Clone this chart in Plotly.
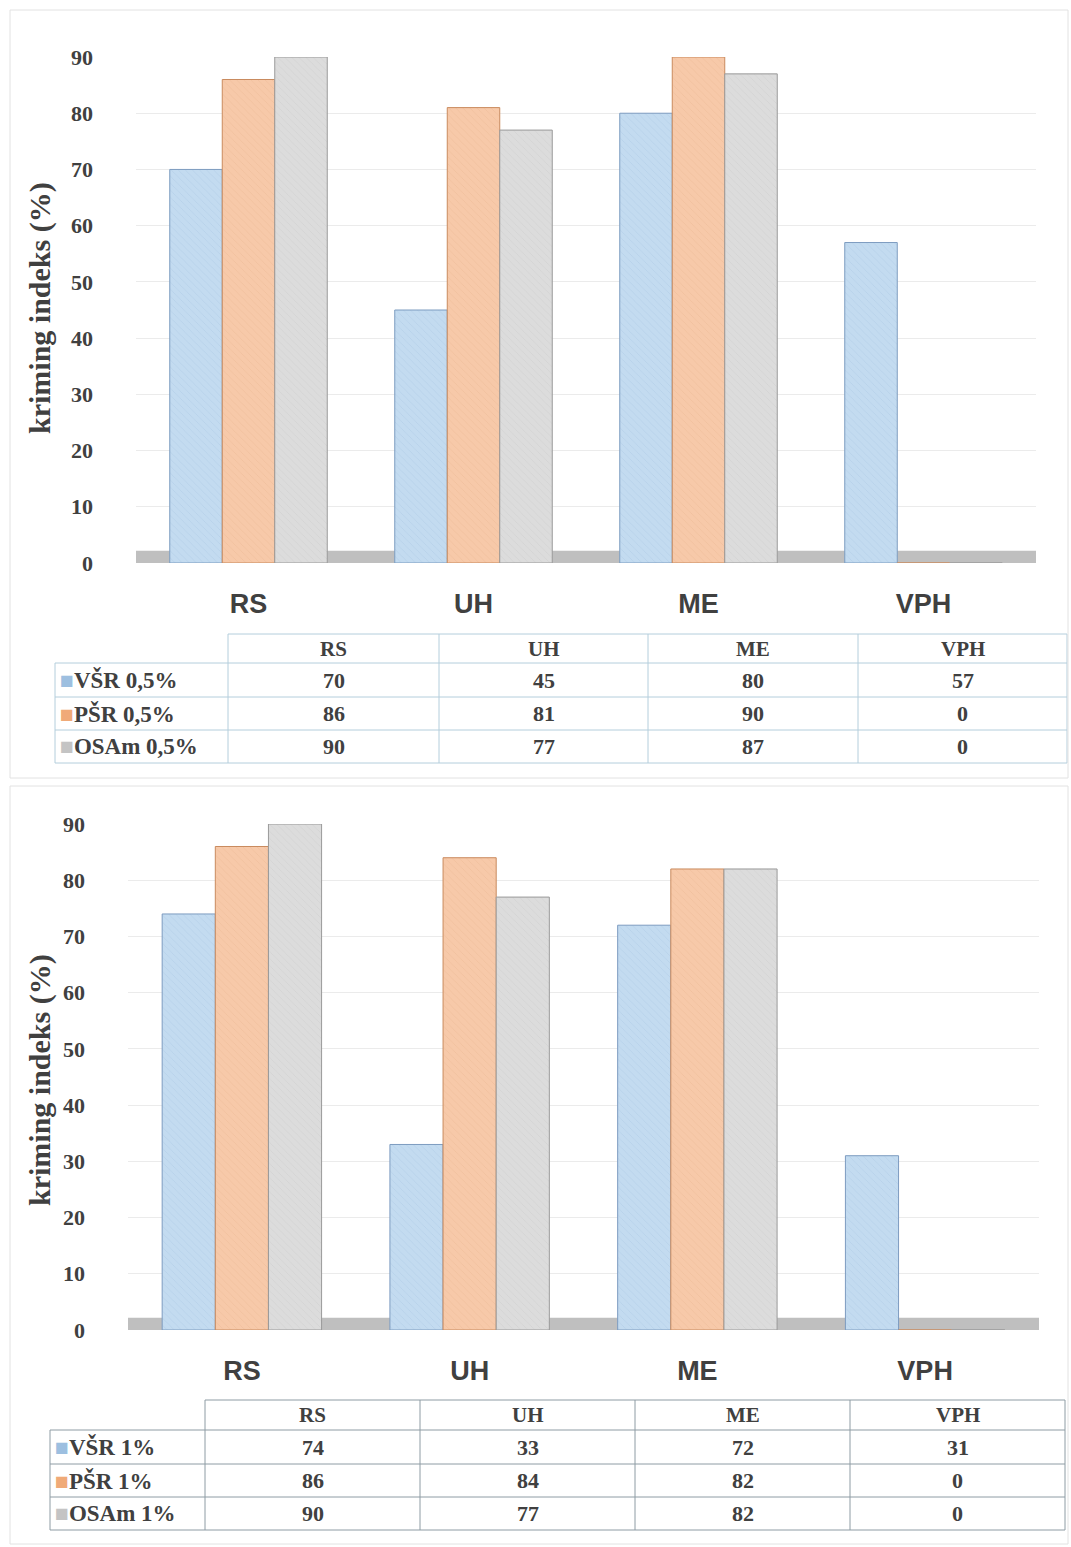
import plotly.graph_objects as go

W, H = 1071, 1547

categories = ["RS", "UH", "ME", "VPH"]

# Panel 1 (0,5%)
series1_names = ["VŠR 0,5%", "PŠR 0,5%", "OSAm 0,5%"]
vsr_05 = [70, 45, 80, 57]
psr_05 = [86, 81, 90, 0]
osam_05 = [90, 77, 87, 0]

# Panel 2 (1%)
series2_names = ["VŠR 1%", "PŠR 1%", "OSAm 1%"]
vsr_1 = [74, 33, 72, 31]
psr_1 = [86, 84, 82, 0]
osam_1 = [90, 77, 82, 0]

y_ticks = [0, 10, 20, 30, 40, 50, 60, 70, 80, 90]

fills = ["#c3dbf0", "#f7c9a9", "#dcdcdc"]
edges = ["#7d9cc0", "#c98a5e", "#9a9a9a"]
hatch = ["#a9c6e3", "#e9b592", "#c8c8c8"]
square = ["#9dbfe0", "#f0aa78", "#c4c4c4"]

SERIF = "Liberation Serif"
SANS = "Liberation Sans"
TXT = "#404040"


def px_x(p):
    return p / W


def px_y(p):
    return 1 - p / H


fig = go.Figure()

panels = [
    dict(vals=[vsr_05, psr_05, osam_05], names=series1_names, xa="x", ya="y",
         xdom=[px_x(136), px_x(1036)], ydom=[px_y(563), px_y(57)],
         col_edges=[55, 228, 439, 648, 858, 1067], row_edges=[634, 663, 697, 730, 763],
         line_color="#b4cedc", title_y=px_y(308), frame=(10, 778)),
    dict(vals=[vsr_1, psr_1, osam_1], names=series2_names, xa="x2", ya="y2",
         xdom=[px_x(128), px_x(1039)], ydom=[px_y(1330), px_y(824)],
         col_edges=[50, 205, 420, 635, 850, 1065], row_edges=[1400, 1430, 1464, 1497, 1530],
         line_color="#8e9ca4", title_y=px_y(1080), frame=(786, 1544)),
]

shapes = []
annotations = []

for pi, p in enumerate(panels):
    for si, (vals, name) in enumerate(zip(p["vals"], p["names"])):
        fig.add_trace(go.Bar(
            x=categories, y=vals, name=name, xaxis=p["xa"], yaxis=p["ya"],
            marker=dict(color=fills[si], line=dict(color=edges[si], width=1),
                        pattern=dict(shape="\\", fgcolor=hatch[si], size=5, solidity=0.15)),
            showlegend=False,
        ))

    # ---- data table (drawn with shapes + annotations) ----
    ce, re_ = p["col_edges"], p["row_edges"]
    lc = p["line_color"]
    for ri, yy in enumerate(re_):
        x_start = ce[1] if ri == 0 else ce[0]
        shapes.append(dict(type="line", xref="paper", yref="paper",
                           x0=px_x(x_start), x1=px_x(ce[-1]), y0=px_y(yy), y1=px_y(yy),
                           line=dict(color=lc, width=1)))
    for ci, xx in enumerate(ce):
        y_start = re_[1] if ci == 0 else re_[0]
        shapes.append(dict(type="line", xref="paper", yref="paper",
                           x0=px_x(xx), x1=px_x(xx), y0=px_y(y_start), y1=px_y(re_[-1]),
                           line=dict(color=lc, width=1)))
    for ci, cat in enumerate(categories):
        xc = (ce[ci + 1] + ce[ci + 2]) / 2
        yc = (re_[0] + re_[1]) / 2
        annotations.append(dict(text=f"<b>{cat}</b>", x=px_x(xc), y=px_y(yc),
                                xref="paper", yref="paper", showarrow=False,
                                xanchor="center", yanchor="middle",
                                font=dict(family=SERIF, size=21, color=TXT)))
    for si in range(3):
        yc = (re_[si + 1] + re_[si + 2]) / 2
        annotations.append(dict(text=f"<span style='color:{square[si]}'>■</span><b>{p['names'][si]}</b>",
                                x=px_x(ce[0] + 3), y=px_y(yc), xref="paper", yref="paper",
                                showarrow=False, xanchor="left", yanchor="middle",
                                font=dict(family=SERIF, size=23, color=TXT)))
        for ci in range(4):
            xc = (ce[ci + 1] + ce[ci + 2]) / 2
            annotations.append(dict(text=f"<b>{p['vals'][si][ci]}</b>", x=px_x(xc), y=px_y(yc),
                                    xref="paper", yref="paper", showarrow=False,
                                    xanchor="center", yanchor="middle",
                                    font=dict(family=SERIF, size=22, color=TXT)))

layout = dict(
    width=W, height=H, margin=dict(l=0, r=0, t=0, b=0, pad=0, autoexpand=False),
    paper_bgcolor="white", plot_bgcolor="white",
    barmode="group", bargap=0.3, bargroupgap=0,
    font=dict(family=SERIF, color=TXT),
    showlegend=False,
)

for pi, p in enumerate(panels):
    xk = "xaxis" if pi == 0 else "xaxis2"
    yk = "yaxis" if pi == 0 else "yaxis2"
    layout[xk] = dict(domain=p["xdom"], anchor=p["ya"], showline=False, showgrid=False,
                      automargin=False, ticks="", ticklabelstandoff=22,
                      tickfont=dict(family=SANS, size=27, color=TXT, weight="bold"),
                      categoryorder="array", categoryarray=categories)
    layout[yk] = dict(domain=p["ydom"], anchor=p["xa"], range=[0, 90], tickvals=y_ticks,
                      automargin=False,
                      showgrid=True, gridcolor="#ebebeb", zeroline=False, showline=False,
                      ticks="", ticklabelstandoff=42,
                      tickfont=dict(family=SERIF, size=22, color=TXT, weight="bold"))
    shapes.append(dict(type="rect", xref=f"{p['xa']} domain", yref=p["ya"],
                       x0=0.0, x1=1.0, y0=0, y1=2.2, fillcolor="#bfbfbf",
                       line=dict(width=0), layer="below"))
    annotations.append(dict(text="<b>kriming indeks (%)</b>", x=px_x(40), y=p["title_y"],
                            xref="paper", yref="paper", textangle=-90, showarrow=False,
                            xanchor="center", yanchor="middle",
                            font=dict(family=SERIF, size=30, color=TXT)))
    f0, f1 = p["frame"]
    shapes.append(dict(type="rect", xref="paper", yref="paper", x0=px_x(10), x1=px_x(1068),
                       y0=px_y(f1), y1=px_y(f0), line=dict(color="#e2e2e2", width=1)))

layout["shapes"] = shapes
layout["annotations"] = annotations
fig.update_layout(**layout)

post = ("document.body.style.margin='0';document.body.style.overflow='hidden';"
        "var d=document.getElementById('{plot_id}');"
        "d.style.position='absolute';d.style.top='0px';d.style.left='0px';")
fig.write_html("out.html", config={"displayModeBar": False}, post_script=post)
